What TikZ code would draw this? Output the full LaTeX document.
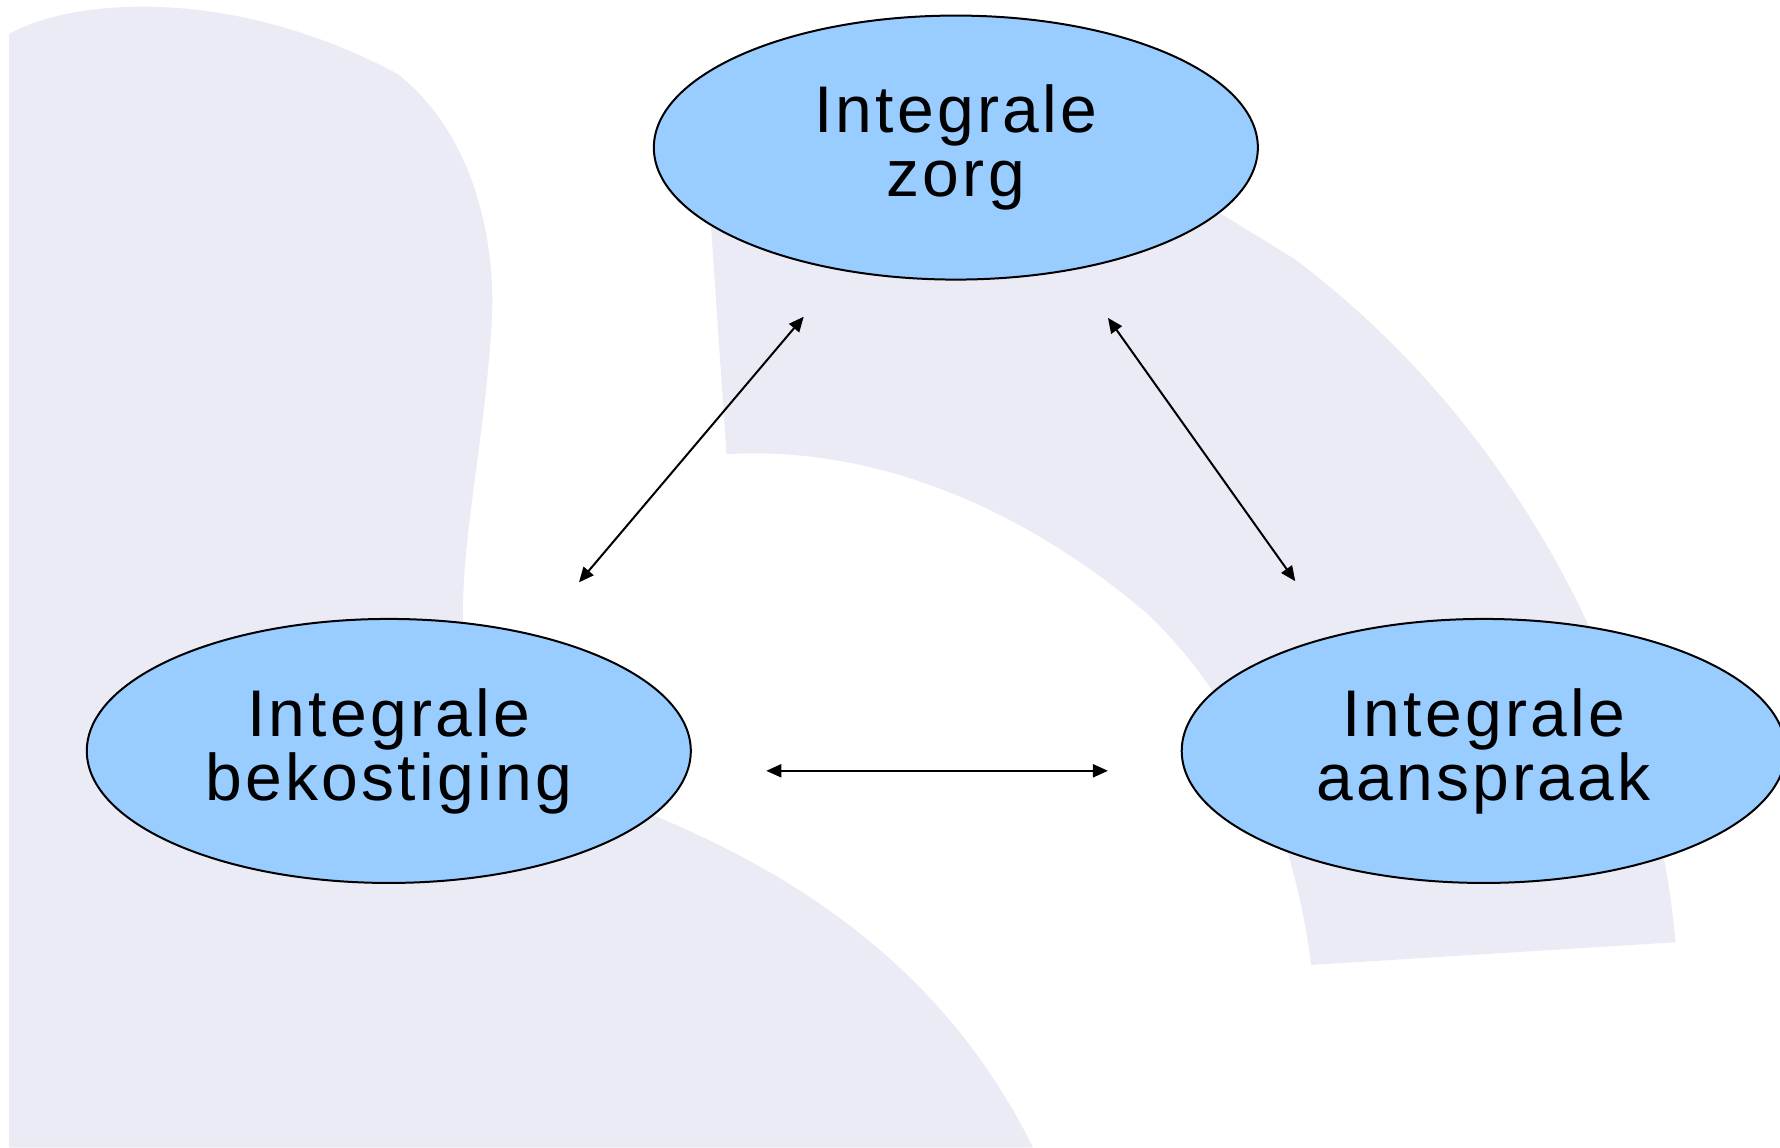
\documentclass[tikz,border=0pt]{standalone}
\usepackage{fontspec}
\setmainfont{Liberation Sans}
\newfontfamily\labelfont[LetterSpace=5]{Liberation Sans}
\usetikzlibrary{arrows.meta,shapes.geometric}
\definecolor{haze}{RGB}{235,235,245}
\definecolor{bubble}{RGB}{153,204,255}
\tikzset{
  concept/.style={ellipse, draw=black, line width=2pt, fill=bubble,
    minimum width=604pt, minimum height=264pt, inner sep=0pt,
    align=center, font=\labelfont\fontsize{66}{64}\selectfont},
  link/.style={line width=2pt,
    {Triangle[length=15pt,width=13pt]}-{Triangle[length=15pt,width=13pt]}},
}
\begin{document}
\begin{tikzpicture}[x=1.1352pt, y=-1.1352pt]
\useasboundingbox (0,0) rectangle (1568,1011);
\clip (0,0) rectangle (1568,1011);
\fill[white] (0,0) rectangle (1568,1011);

% soft background shapes
\fill[haze] (8,30) .. controls (60,0) and (200,-15) .. (350,65)
  .. controls (420,120) and (440,220) .. (432,300)
  .. controls (425,400) and (405,480) .. (408,560)
  -- (500,700) -- (575,718)
  .. controls (750,790) and (850,890) .. (910,1011)
  -- (8,1011) -- cycle;
\fill[haze] (625,180) -- (640,400)
  .. controls (780,392) and (910,455) .. (1010,540)
  .. controls (1090,615) and (1140,730) .. (1155,850)
  -- (1476,830)
  .. controls (1455,600) and (1330,370) .. (1140,228)
  -- (1075,188) -- (842,200) -- cycle;

% concepts
\node[concept] (zorg) at (842,130) {Integrale\\zorg};
\node[concept] (bek) at (342.5,661.5) {Integrale\\bekostiging};
\node[concept] (aan) at (1307,661.5) {Integrale\\aanspraak};

% arrow end points
\coordinate (zl) at (708,279);
\coordinate (bt) at (510,513);
\coordinate (zr) at (976,280);
\coordinate (at) at (1141,512);
\coordinate (br) at (675,679);
\coordinate (al) at (976,679);

\draw[link] (zl) -- (bt);
\draw[link] (zr) -- (at);
\draw[link] (br) -- (al);
\end{tikzpicture}
\end{document}
